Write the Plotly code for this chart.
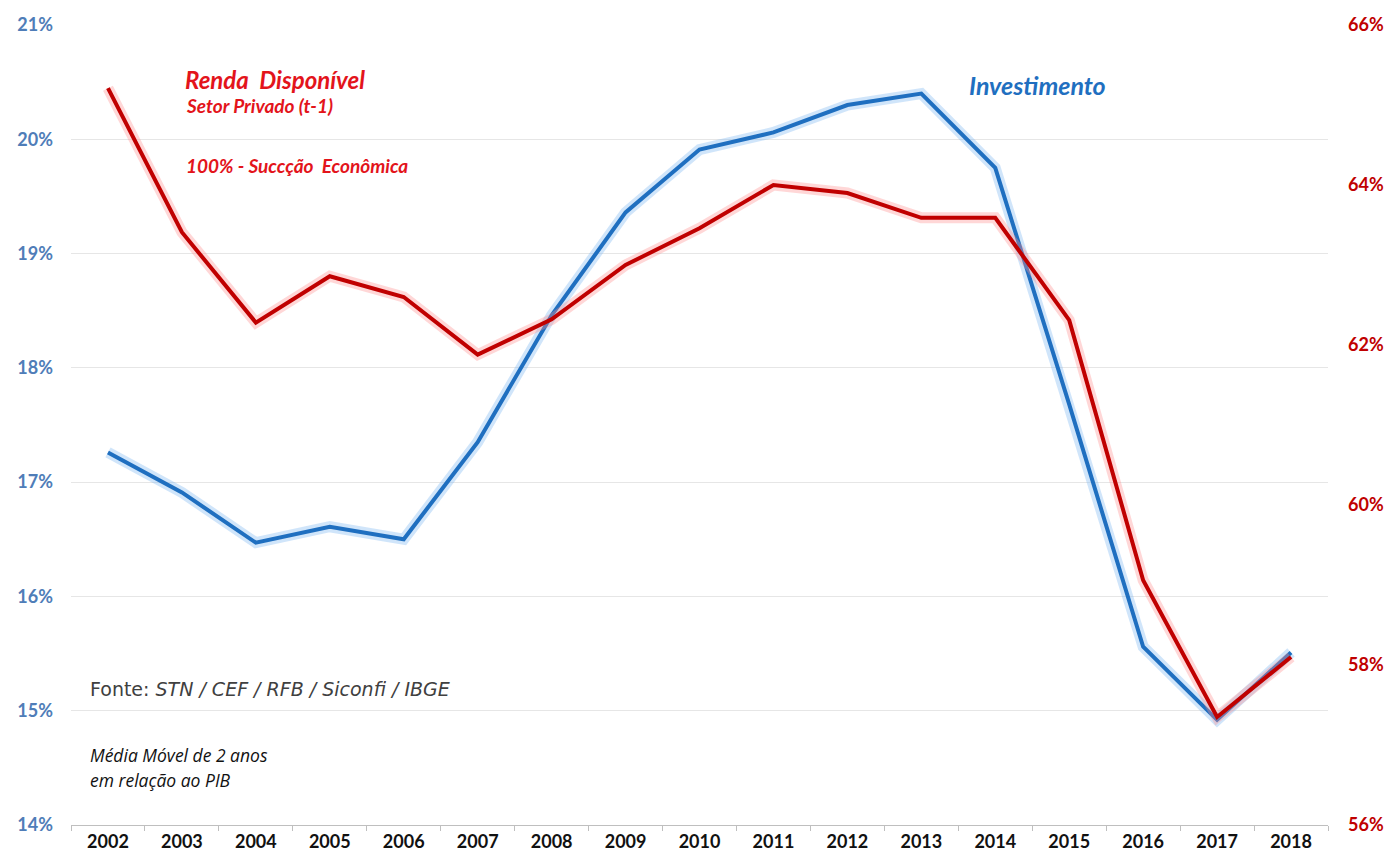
import plotly.graph_objects as go

years = [str(y) for y in range(2002, 2019)]
investimento = [17.26, 16.91, 16.47, 16.61, 16.50, 17.35, 18.46, 19.36, 19.91, 20.06,
                20.30, 20.40, 19.75, 17.68, 15.56, 14.92, 15.51]
renda = [65.21, 63.41, 62.28, 62.86, 62.60, 61.88, 62.32, 63.00, 63.46, 64.00,
         63.90, 63.59, 63.59, 62.31, 59.06, 57.35, 58.10]
left_ticks = [14, 15, 16, 17, 18, 19, 20, 21]
right_ticks = [56, 58, 60, 62, 64, 66]

BLUE = "#1F6FC0"
RED = "#C00000"
FONT = "Lato"

fig = go.Figure()
# glow layers
fig.add_trace(go.Scatter(x=years, y=investimento, mode="lines", yaxis="y",
                         line=dict(color="rgba(120,180,240,0.35)", width=11),
                         hoverinfo="skip", showlegend=False))
fig.add_trace(go.Scatter(x=years, y=investimento, mode="lines", yaxis="y",
                         line=dict(color=BLUE, width=4), name="Investimento",
                         showlegend=False))
fig.add_trace(go.Scatter(x=years, y=renda, mode="lines", yaxis="y2",
                         line=dict(color="rgba(255,140,140,0.35)", width=11),
                         hoverinfo="skip", showlegend=False))
fig.add_trace(go.Scatter(x=years, y=renda, mode="lines", yaxis="y2",
                         line=dict(color=RED, width=4), name="Renda Disponível",
                         showlegend=False))

x0, x1, ytop, ybot = 71, 1328, 25, 825


def px(x):
    return (x - x0) / (x1 - x0)


def py(y):
    return (ybot - y) / (ybot - ytop)


annotations = [
    dict(text="<b><i>Renda  Disponível</i></b>", x=px(183), y=py(79),
         font=dict(size=24, color="#E3141B", family=FONT)),
    dict(text="<b><i>Setor Privado (t-1)</i></b>", x=px(184), y=py(106),
         font=dict(size=19, color="#E3141B", family=FONT)),
    dict(text="<b><i>100% - Succção  Econômica</i></b>", x=px(184), y=py(165),
         font=dict(size=19, color="#E3141B", family=FONT)),
    dict(text="<b><i>Investimento</i></b>", x=px(967), y=py(85),
         font=dict(size=25, color=BLUE, family=FONT)),
    dict(text="Fonte: <i>STN / CEF / RFB / Siconfi / IBGE</i>", x=px(88), y=py(689),
         font=dict(size=19, color="#404040", family="DejaVu Sans")),
    dict(text="<i>Média Móvel de 2 anos</i>", x=px(88), y=py(755),
         font=dict(size=17.5, color="#111111", family="Open Sans")),
    dict(text="<i>em relação ao PIB</i>", x=px(88), y=py(780),
         font=dict(size=17.5, color="#111111", family="Open Sans")),
]
for a in annotations:
    a.update(xref="paper", yref="paper", xanchor="left", yanchor="middle",
             showarrow=False)

fig.update_layout(
    width=1389, height=858,
    margin=dict(l=x0, r=1389 - x1, t=ytop, b=858 - ybot),
    paper_bgcolor="white", plot_bgcolor="white",
    font=dict(family=FONT),
    xaxis=dict(type="category", categoryorder="array", categoryarray=years,
               tickson="boundaries", ticks="outside", ticklen=5,
               tickcolor="#BFBFBF", showline=True, linecolor="#BFBFBF",
               linewidth=1, showgrid=False, zeroline=False, automargin=False,
               tickfont=dict(size=18, color="#111111", family=FONT),
               ticktext=[f"<b>{y}</b>" for y in years], tickvals=years,
               range=[-0.5, len(years) - 0.5]),
    yaxis=dict(range=[14, 21], tickvals=left_ticks,
               ticktext=[f"<b>{v}%</b>" for v in left_ticks],
               tickfont=dict(size=18, color="#4F7DB8", family=FONT),
               showgrid=True, gridcolor="#E6E6E6", gridwidth=1,
               zeroline=False, showline=False, ticks="", automargin=False,
               ticklabelstandoff=17),
    yaxis2=dict(range=[56, 66], tickvals=right_ticks, overlaying="y", side="right",
                ticktext=[f"<b>{v}%</b>" for v in right_ticks],
                tickfont=dict(size=18, color=RED, family=FONT),
                showgrid=False, zeroline=False, showline=False, ticks="",
                automargin=False, ticklabelstandoff=19),
    annotations=annotations,
)

fig.write_html("out.html")
